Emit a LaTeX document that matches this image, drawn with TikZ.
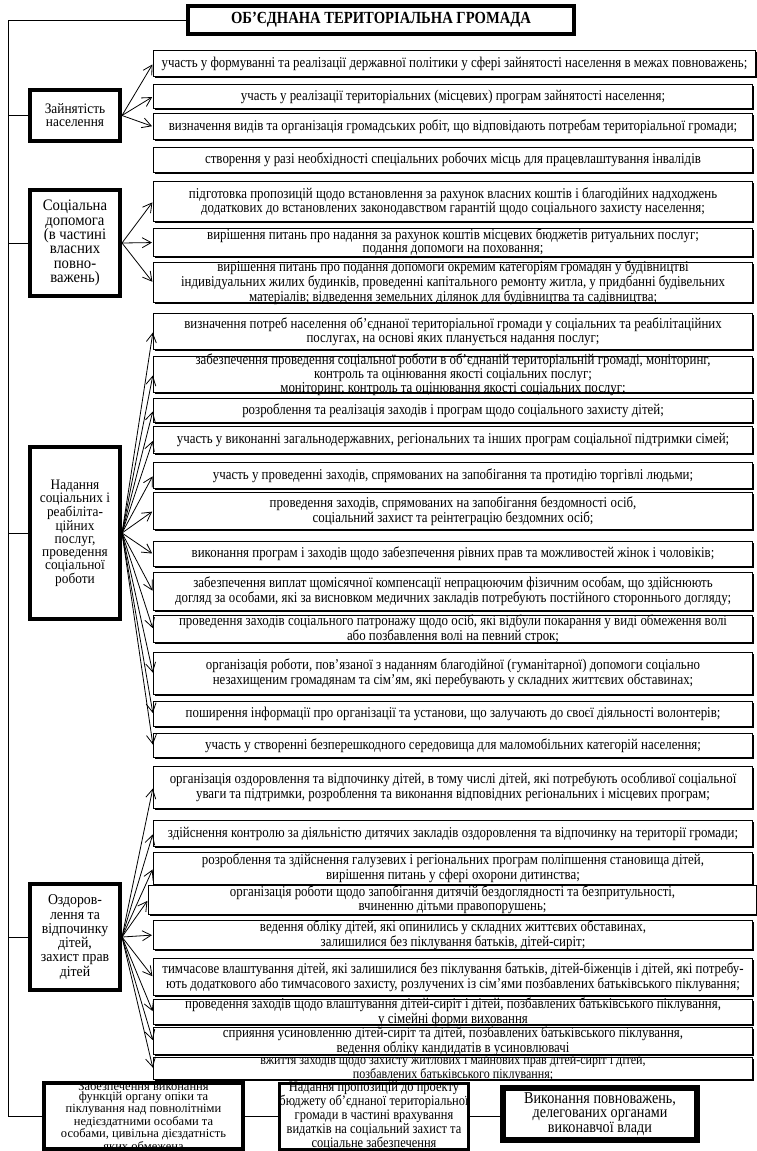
\documentclass[tikz,border=0pt]{standalone}
\usepackage{fontspec}
\setmainfont{Liberation Serif}
\newfontfamily\narrowfont{Liberation Serif}[FakeStretch=0.86]
\newfontfamily\midfont{Liberation Serif}[FakeStretch=0.92]
\usetikzlibrary{arrows.meta,shadows}
\tikzset{
  rowbox/.style={draw, line width=1.1pt, fill=white, anchor=north west,
    general shadow={shadow xshift=1.6pt, shadow yshift=-1.6pt, fill=black},
    inner sep=0pt},
  rowtext/.style={inner sep=0pt, align=center,
    font=\narrowfont\fontsize{15}{12.3}\selectfont},
  tight/.style={font=\narrowfont\fontsize{15}{12.3}\selectfont},
  catbox/.style={draw, line width=4pt, fill=white, inner sep=0pt, align=center,
    minimum width=90pt, font=\midfont\fontsize{14.5}{13}\selectfont},
  botbox/.style={draw, fill=white, inner sep=0pt, align=center},
  arr/.style={-{Straight Barb[length=9pt,width=10pt]}, line width=0.8pt, shorten >=1pt},
  link/.style={line width=1pt}
}
\newcommand{\rowitem}[6]{%
  \node[rowbox, minimum width=#3, minimum height=#4] (r#1) at (#2) {};
  \node[rowtext, #5] (t#1) at (r#1.center) {#6};}
\begin{document}
\begin{tikzpicture}[x=1pt,y=-1pt]
\path[use as bounding box] (0,0) rectangle (757,1151);

% title
\node[draw, line width=4pt, minimum width=386pt, minimum height=28pt, inner sep=0pt,
  font=\narrowfont\bfseries\fontsize{17}{17}\selectfont] (title) at (381,20) {ОБ’ЄДНАНА ТЕРИТОРІАЛЬНА ГРОМАДА};

% category boxes
\node[catbox, minimum height=51pt] (c1) at (75,115.5) {Зайнятість\\населення};
\node[catbox, minimum height=106pt, font=\midfont\fontsize{16}{14.3}\selectfont] (c2) at (75,243) {Соціальна\\допомога\\(в частині\\власних\\повно-\\важень)};
\node[catbox, minimum height=172pt] (c3) at (75,533) {Надання\\соціальних і\\реабіліта-\\ційних\\послуг,\\проведення\\соціальної\\роботи};
\node[catbox, minimum height=106pt, font=\midfont\fontsize{15}{14.3}\selectfont] (c4) at (75,937) {Оздоров-\\лення та\\відпочинку\\дітей,\\захист прав\\дітей};

% bottom boxes
\node[botbox, line width=4pt, minimum width=199pt, minimum height=66pt] (b1) at (143.5,1116) {};
\node[inner sep=0pt, align=center, font=\rmfamily\fontsize{12.5}{10.3}\selectfont] (b1t) at (b1.center) {Забезпечення виконання\\функцій органу опіки та\\піклування над повнолітніми\\недієздатними особами та\\особами, цивільна дієздатність\\яких обмежена};
\node[botbox, line width=3pt, minimum width=189pt, minimum height=66pt] (b2) at (374,1116) {};
\node[inner sep=0pt, align=center, font=\narrowfont\fontsize{14.5}{12.2}\selectfont] (b2t) at (b2.center) {Надання пропозицій до проекту\\бюджету об’єднаної територіальної\\громади в частині врахування\\видатків на соціальний захист та\\соціальне забезпечення};
\node[botbox, line width=6pt, minimum width=194pt, minimum height=52pt,
  font=\narrowfont\fontsize{16.5}{14.5}\selectfont] (b3) at (600,1114) {Виконання повноважень,\\делегованих органами\\виконавчої влади};

% rows
\rowitem{1}{153,50}{602pt}{26pt}{}{участь у формуванні та реалізації державної політики у сфері зайнятості населення в межах повноважень;}
\rowitem{2}{153,84}{599pt}{24pt}{}{участь у реалізації територіальних (місцевих) програм зайнятості населення;}
\rowitem{3}{153,113}{599pt}{26pt}{}{визначення видів та організація громадських робіт, що відповідають потребам територіальної громади;}
\rowitem{4}{153,147}{599pt}{25pt}{}{створення у разі необхідності спеціальних робочих місць для працевлаштування інвалідів}
\rowitem{5}{153,181}{599pt}{40pt}{}{підготовка пропозицій щодо встановлення за рахунок власних коштів і благодійних надходжень\\додаткових до встановлених законодавством гарантій щодо соціального захисту населення;}
\rowitem{6}{153,228}{599pt}{28pt}{font=\narrowfont\fontsize{15}{13}\selectfont}{вирішення питань про надання за рахунок коштів місцевих бюджетів ритуальних послуг;\\подання допомоги на поховання;}
\rowitem{7}{153,262}{599pt}{40pt}{tight}{вирішення питань про подання допомоги окремим категоріям громадян у будівництві\\індивідуальних жилих будинків, проведенні капітального ремонту житла, у придбанні будівельних\\матеріалів; відведення земельних ділянок для будівництва та садівництва;}
\rowitem{8}{153,313}{599pt}{36pt}{}{визначення потреб населення об’єднаної територіальної громади у соціальних та реабілітаційних\\послугах, на основі яких планується надання послуг;}
\rowitem{9}{153,356}{599pt}{36pt}{tight}{забезпечення проведення соціальної роботи в об’єднаній територіальній громаді, моніторинг,\\контроль та оцінювання якості соціальних послуг;\\моніторинг, контроль та оцінювання якості соціальних послуг;}
\rowitem{10}{153,398}{599pt}{24pt}{}{розроблення та реалізація заходів і програм щодо соціального захисту дітей;}
\rowitem{11}{153,426}{599pt}{27pt}{}{участь у виконанні загальнодержавних, регіональних та інших програм соціальної підтримки сімей;}
\rowitem{12}{153,462}{599pt}{26pt}{}{участь у проведенні заходів, спрямованих на запобігання та протидію торгівлі людьми;}
\rowitem{13}{153,492}{599pt}{37pt}{}{проведення заходів, спрямованих на запобігання бездомності осіб,\\соціальний захист та реінтеграцію бездомних осіб;}
\rowitem{14}{153,541}{599pt}{25pt}{}{виконання програм і заходів щодо забезпечення рівних прав та можливостей жінок і чоловіків;}
\rowitem{15}{153,572}{599pt}{38pt}{}{забезпечення виплат щомісячної компенсації непрацюючим фізичним особам, що здійснюють\\догляд за особами, які за висновком медичних закладів потребують постійного стороннього догляду;}
\rowitem{16}{153,615}{599pt}{27pt}{tight}{проведення заходів соціального патронажу щодо осіб, які відбули покарання у виді обмеження волі\\або позбавлення волі на певний строк;}
\rowitem{17}{153,652}{599pt}{42pt}{}{організація роботи, пов’язаної з наданням благодійної (гуманітарної) допомоги соціально\\незахищеним громадянам та сім’ям, які перебувають у складних життєвих обставинах;}
\rowitem{18}{153,701}{599pt}{25pt}{}{поширення інформації про організації та установи, що залучають до своєї діяльності волонтерів;}
\rowitem{19}{153,733}{599pt}{24pt}{}{участь у створенні безперешкодного середовища для маломобільних категорій населення;}
\rowitem{20}{153,766}{599pt}{42pt}{}{організація оздоровлення та відпочинку дітей, в тому числі дітей, які потребують особливої соціальної\\уваги та підтримки, розроблення та виконання відповідних регіональних і місцевих програм;}
\rowitem{21}{153,820}{599pt}{26pt}{}{здійснення контролю за діяльністю дитячих закладів оздоровлення та відпочинку на території громади;}
\rowitem{22}{153,852}{599pt}{32pt}{tight}{розроблення та здійснення галузевих і регіональних програм поліпшення становища дітей,\\вирішення питань у сфері охорони дитинства;}
\rowitem{23}{148,885}{608pt}{29pt}{tight}{організація роботи щодо запобігання дитячій бездоглядності та безпритульності,\\вчиненню дітьми правопорушень;}
\rowitem{24}{153,920}{599pt}{29pt}{tight}{ведення обліку дітей, які опинились у складних життєвих обставинах,\\залишилися без піклування батьків, дітей-сиріт;}
\rowitem{25}{153,958}{599pt}{37pt}{}{тимчасове влаштування дітей, які залишилися без піклування батьків, дітей-біженців і дітей, які потребу-\\ють додаткового або тимчасового захисту, розлучених із сім’ями позбавлених батьківського піклування;}
\rowitem{26}{153,999}{599pt}{25pt}{tight}{проведення заходів щодо влаштування дітей-сиріт і дітей, позбавлених батьківського піклування,\\у сімейні форми виховання}
\rowitem{27}{153,1027}{599pt}{27pt}{font=\narrowfont\fontsize{15}{11.8}\selectfont}{сприяння усиновленню дітей-сиріт та дітей, позбавлених батьківського піклування,\\ведення обліку кандидатів в усиновлювачі}
\rowitem{28}{153,1057}{599pt}{22pt}{font=\narrowfont\fontsize{14}{11.5}\selectfont}{вжиття заходів щодо захисту житлових і майнових прав дітей-сиріт і дітей,\\позбавлених батьківського піклування;}

% main spine
\coordinate (tl) at (8,20);
\draw[link] (title.west) -- (tl) |- (b1.west);
\draw[link] (c1.west) -- (c1.west -| tl);
\draw[link] (c2.west) -- (c2.west -| tl);
\draw[link] (c3.west) -- (c3.west -| tl);
\draw[link] (c4.west) -- (c4.west -| tl);
\draw[link] (b1.east) -- (b1.east -| b2.west);
\draw[link] (b2.east |- b1.east) -- (b1.east -| b3.west);

% arrows
\foreach \r in {1,2,3} \draw[arr] (c1.east) -- (r\r.west);
\foreach \r in {5,6,7} \draw[arr] (c2.east) -- (r\r.west);
\foreach \r in {8,...,19} \draw[arr] (c3.east) -- (r\r.west);
\foreach \r in {20,...,28} \draw[arr] (c4.east) -- (r\r.west);
\end{tikzpicture}
\end{document}
